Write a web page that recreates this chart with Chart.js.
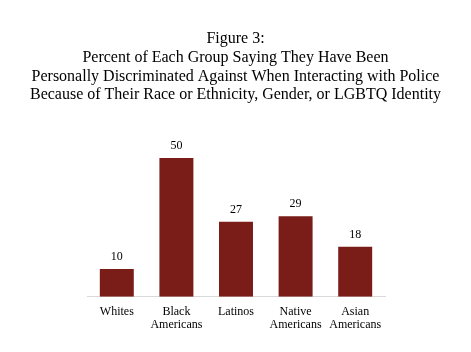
<!DOCTYPE html>
<html><head><meta charset="utf-8">
<script src="https://cdn.jsdelivr.net/npm/chart.js@4"></script>
<style>html,body{margin:0;padding:0;background:#fff;}canvas{display:block;}</style>
</head><body>
<canvas id="c" width="471" height="352"></canvas>
<script>
const categories = [["Whites"], ["Black", "Americans"], ["Latinos"], ["Native", "Americans"], ["Asian", "Americans"]];
const values = [10, 50, 27, 29, 18];
const titleLines = ["Figure 3:", "Percent of Each Group Saying They Have Been", "Personally Discriminated Against When Interacting with Police", "Because of Their Race or Ethnicity, Gender, or LGBTQ Identity"];

const serif = "'Liberation Serif', 'Times New Roman', serif";
const labelPlugin = {
  id: 'vlabels',
  afterDatasetsDraw(chart) {
    const ctx = chart.ctx;
    const meta = chart.getDatasetMeta(0);
    ctx.save();
    ctx.font = "12px " + serif;
    ctx.fillStyle = "#000";
    ctx.textAlign = "center";
    ctx.textBaseline = "bottom";
    meta.data.forEach((el, i) => {
      ctx.fillText(String(values[i]), el.x, el.y - 6);
    });
    ctx.restore();
  }
};
new Chart(document.getElementById('c'), {
  type: 'bar',
  data: { labels: categories, datasets: [{ data: values, backgroundColor: '#7a1c18', barPercentage: 0.57, categoryPercentage: 1.0 }] },
  options: {
    responsive: false, animation: false, devicePixelRatio: 1,
    layout: { padding: { left: 0, right: 0, bottom: 20, top: 0 } },
    plugins: {
      legend: { display: false }, tooltip: { enabled: false },
      title: { display: true, text: titleLines, color: '#000', font: { family: serif, size: 16, weight: 'normal', lineHeight: 1.16 }, padding: { top: 30, bottom: 26 } }
    },
    scales: {
      y: { display: true, min: 0, max: 60, position: 'left', grid: { display: false }, border: { display: false }, ticks: { display: false }, afterFit: s => { s.width = 87; } },
      y2: { display: true, min: 0, max: 60, position: 'right', grid: { display: false }, border: { display: false }, ticks: { display: false }, afterFit: s => { s.width = 86; } },
      x: { grid: { display: false }, border: { color: '#d9d9d9', width: 1 },
           ticks: { color: '#000', font: { family: serif, size: 12, lineHeight: 1.05 }, padding: 1, maxRotation: 0, autoSkip: false } }
    }
  },
  plugins: [labelPlugin]
});
</script>
</body></html>
